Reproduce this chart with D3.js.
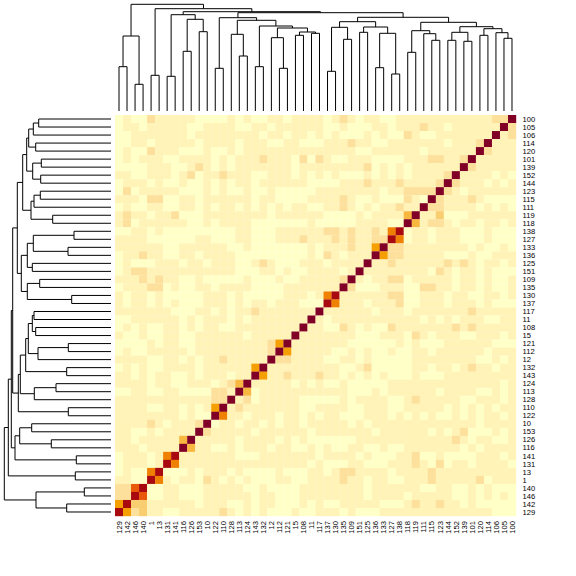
<!DOCTYPE html>
<html lang="en">
<head>
<meta charset="UTF-8">
<title>Heatmap</title>
<script src="https://d3js.org/d3.v7.min.js"></script>
<style>
  html, body { margin: 0; background: #fff; }
  svg { display: block; }
  text { font-family: "Liberation Sans", sans-serif; font-size: 7.6px; fill: #000; }
</style>
</head>
<body>
<svg id="canvas" width="576" height="576"></svg>
<script>
// column labels, left to right (rows are the same list read bottom to top)
let colLabels = [129,142,146,140,1,13,131,141,116,126,153,10,122,110,128,113,124,143,132,12,112,121,15,108,11,
                 117,137,130,135,109,151,125,136,133,127,138,118,119,111,115,123,144,152,139,101,120,114,106,105,100]
let rowLabels = [100,105,106,114,120,101,139,152,144,123,115,111,119,118,138,127,133,136,125,151,109,135,130,137,117,
                 11,108,15,121,112,12,132,143,124,113,128,110,122,10,153,126,116,141,131,13,1,140,146,142,129]

// binned similarity per cell, one string per row, top row first
let heatRows = [
  '0100211111000010100110111'+'1012101100111111111111229',
  '0110111110011110011011111'+'1001000110111211011111192',
  '0011111110111111110110110'+'1010001010021001111111912',
  '0011011111011110111001100'+'0111211001111111011129111',
  '0100211100010010111111111'+'1111100111111011111192111',
  '0101110011110101112111020'+'2100111000011122112911111',
  '0000111001210101111111011'+'1111112010101111119211111',
  '1100111012011211100111010'+'1010001010101111291111010',
  '0111010010010101101111110'+'0001112111211112921110101',
  '0201111100010100100100000'+'1111111101122229210111111',
  '1110220011011111101100001'+'1112100100021092111210000',
  '0100110011010110101010110'+'0112101011211922111101010',
  '1211011200011111111011111'+'1000010111149113000111111',
  '1201111110010111100000001'+'0000011110094122101101101',
  '0011010000000001100011111'+'1221211216801101110001000',
  '1111000000110001100011121'+'1121211228601101110001000',
  '1111110011111100100000001'+'0111211592211111111010010',
  '0112110011011110000000001'+'0210111952211111000100111',
  '0100011101101110012100011'+'1011119112111111212101101',
  '0122111111111110001101001'+'1110191111111102101101000',
  '1112121100100000100010011'+'1112910112201111101101001',
  '0111220100110111100001111'+'1119200011100221101101001',
  '1011010000011101000001110'+'1681111112200111011001101',
  '1011010100011101011011100'+'0861110111200111011101000',
  '1111111000110101121111111'+'9111111011101111111211111',
  '0011111101011101011111119'+'1011111111111010101110011',
  '0101001101011001111111191'+'1002101002111111121211111',
  '1001001100111111011111911'+'1111100011102101110011101',
  '0000101100111111111259111'+'1111000000101000111111000',
  '0100111110111111111295111'+'1100101001001101111110111',
  '1111001101011211111922111'+'1001101000001111111100101',
  '0101001111011111159111111'+'1110012000001101101211011',
  '1101011001011101195112111'+'2110101010001000111111111',
  '1111011001110124911111010'+'1001000001111111111111101',
  '0011001100002219401111111'+'1111000101111110111100101',
  '1111111111112291201111100'+'0001011110012111110011101',
  '1111001101015912111111100'+'1111001110011111010101011',
  '1111111101009611011101101'+'0110001110101010010101101',
  '1111210111290110110101101'+'1111010111111111111101111',
  '1100101111921111101111110'+'1111111011111101012000101',
  '1101111149111110111101010'+'0000011111111111121011001',
  '1110111194110010111011001'+'0100110010011111110101111',
  '0111016811111110001111111'+'0111101000112001000011101',
  '0111018611111111111111110'+'1000110001112102011011110',
  '0100680001011101000010001'+'1012211110111121111111111',
  '1100861011021010100011001'+'1112110110011121111120111',
  '2278001100011111001000011'+'1111110111111001100101000',
  '2287001100011111101100011'+'1111110111101111100101010',
  '5833111111011100101100010'+'1001111100012112110100000',
  '8523110011111210101000100'+'1110100011111111111111000'
]
let heatColors = ['#ffffc8','#fff3b8','#fde09c','#f8ce70','#f8b840','#f5a000','#f08000','#e85a0a','#a80a10','#800026']

// dendrograms as [merge height, left, right], 0 is a leaf
let colTree =
  [106.7,
    [75, [44.3,0,0], [26.7,0,0]],
    [102.3,
      [35.7,0,0],
      [99.3,
        [96.3, [34.7,0,0], [91.7, [59.7,0,0], [79.3,0,0]]],
        [98.3,
          [93.3, [42.7,0,0],
            [90.7,
              [76.7, 0, [55,0,0]],
              [85, [44.3,0,0], [83, [73.3, 0, [42.7,0,0]], [79, [75.7,0,0], [77.7,0,0]]]]]],
          [93.7,
            [89.3,
              [83.7, [39.7,0,0], [71.7,0,0]],
              [84, [78.7,0,0], [77.7, [43.3,0,0], [37,0,0]]]],
            [88.7,
              [80.3, [58.7,0,0], [77.3, 0, [70.7,0,0]]],
              [84.3, [78.7, [70.7,0,0], [69.7,0,0]], [82.3, [75.7,0,0], [78.3, 0, [72.7,0,0]]]]]]]]]]

let rowTree =
  [106.7,
    [102.7,
      [99.7,
        [98.3,
          [93.7,
            [88.3,
              [84.3, [82.3, [77.7, [72.3,0,0], 0], [75.3,0,0]], [78.3, [69.7,0,0], [70.3,0,0]]],
              [80, [77, [70.7,0,0], 0], [58.3,0,0]]],
            [89.7,
              [83.7, [77.7, [37,0,0], [43,0,0]], [78.7,0,0]],
              [83.7, [71.3,0,0], [39.3,0,0]]]],
          [92.7,
            [90.7,
              [85.3, [82.7, [78.7, [77,0,0], [75.3,0,0]], [73, [42.7,0,0], 0]], [44.3,0,0]],
              [76.7, [55,0,0], 0]],
            [42.7,0,0]]],
        [96,
          [91.3, [79.3,0,0], [59.7,0,0]],
          [34.7,0,0]]],
      [35.7,0,0]],
    [75, [26.7,0,0], [44.3,0,0]]]

let canvas = d3.select('#canvas')

let xScale = d3.scaleBand().domain(d3.range(colLabels.length)).range([115, 516])
let yScale = d3.scaleBand().domain(d3.range(rowLabels.length)).range([115, 516])
let colorScale = d3.scaleOrdinal().domain(d3.range(heatColors.length)).range(heatColors)

let heightScale = d3.scaleLinear().domain([0, 111]).range([111, 0])

let cells = heatRows.flatMap((row, r) => row.split('').map((v, c) => ({r: r, c: c, v: +v})))

canvas.append('g').selectAll('rect')
  .data(cells)
  .enter()
  .append('rect')
  .attr('x', (d) => xScale(d.c))
  .attr('y', (d) => yScale(d.r))
  .attr('width', xScale.bandwidth() + 0.2)
  .attr('height', yScale.bandwidth() + 0.2)
  .attr('fill', (d) => colorScale(d.v))

canvas.append('g').selectAll('text')
  .data(rowLabels)
  .enter()
  .append('text')
  .attr('x', 522.5)
  .attr('y', (d, i) => yScale(i) + yScale.bandwidth() / 2)
  .attr('dy', '0.35em')
  .text((d) => d)

canvas.append('g').selectAll('text')
  .data(colLabels)
  .enter()
  .append('text')
  .attr('text-anchor', 'end')
  .attr('transform', (d, i) => 'translate(' + (xScale(i) + xScale.bandwidth() / 2 + 2.7) + ',521) rotate(-90)')
  .text((d) => d)

// lays out a dendrogram, returns one path string per merge
let treeLinks = (tree, leafPos, horizontal) => {
  let root = d3.hierarchy(tree, (d) => Array.isArray(d) ? d.slice(1) : null)
  root.leaves().forEach((leaf, i) => {
    leaf.pos = leafPos(i)
    leaf.h = heightScale(0)
  })
  let paths = []
  root.eachAfter((node) => {
    if(!node.children) return
    let a = node.children[0]
    let b = node.children[1]
    node.pos = (a.pos + b.pos) / 2
    node.h = heightScale(node.data[0])
    if(horizontal){
      paths.push('M' + a.h + ',' + a.pos + 'H' + node.h + 'V' + b.pos + 'H' + b.h)
    }else{
      paths.push('M' + a.pos + ',' + a.h + 'V' + node.h + 'H' + b.pos + 'V' + b.h)
    }
  })
  return paths
}

let drawTree = (paths) => {
  canvas.append('g').selectAll('path')
    .data(paths)
    .enter()
    .append('path')
    .attr('d', (d) => d)
    .attr('fill', 'none')
    .attr('stroke', '#000')
    .attr('stroke-width', 1)
}

drawTree(treeLinks(colTree, (i) => xScale(i) + xScale.bandwidth() / 2, false))
drawTree(treeLinks(rowTree, (i) => yScale(i) + yScale.bandwidth() / 2, true))
</script>
</body>
</html>
